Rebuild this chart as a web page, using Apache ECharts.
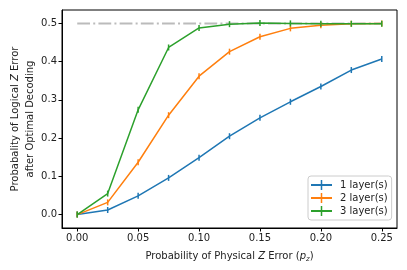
<!DOCTYPE html>
<html><head><meta charset="utf-8">
<script src="https://cdn.jsdelivr.net/npm/echarts@6/dist/echarts.min.js"></script>
<style>html,body{margin:0;padding:0;background:#fff}#c{width:407px;height:270px}</style>
</head><body><div id="c"></div>
<script>
const pz = [0, 0.025, 0.05, 0.075, 0.1, 0.125, 0.15, 0.175, 0.2, 0.225, 0.25];
const layer1 = [0.0, 0.012, 0.049, 0.096, 0.149, 0.205, 0.253, 0.295, 0.335, 0.378, 0.407];
const layer2 = [0.0, 0.032, 0.137, 0.260, 0.362, 0.426, 0.465, 0.487, 0.495, 0.499, 0.500];
const layer3 = [0.0, 0.055, 0.274, 0.437, 0.488, 0.498, 0.501, 0.500, 0.499, 0.499, 0.499];
const seriesNames = ['1 layer(s)', '2 layer(s)', '3 layer(s)'];
const refLevel = 0.5;
const xTicks = [0, 0.05, 0.1, 0.15, 0.2, 0.25];
const yTicks = [0, 0.1, 0.2, 0.3, 0.4, 0.5];

const colors = ['#1f77b4', '#ff7f0e', '#2ca02c'];
const font = 'DejaVu Sans';
const plusIcon = 'path://M0,5 L21,5 L21,7 L0,7 Z M9.75,1 L11.25,1 L11.25,11 L9.75,11 Z';

function mk(name, vals, color) {
  return {
    name: name, type: 'line', data: pz.map((x, i) => [x, vals[i]]),
    color: color, lineStyle: {width: 1.5, color: color},
    symbol: 'rect', symbolSize: [1.5, 6], itemStyle: {color: color},
    showSymbol: true, z: 3, animation: false
  };
}

const chart = echarts.init(document.getElementById('c'), null, {renderer: 'canvas'});
chart.setOption({
  animation: false,
  grid: {left: 62, right: 10, top: 10, bottom: 42, containLabel: false, outerBoundsMode: 'none',
         show: true, borderColor: '#000', borderWidth: 1, backgroundColor: 'transparent'},
  xAxis: {
    type: 'value', min: -0.0125, max: 0.2625,
    axisLine: {show: true, onZero: false, lineStyle: {color: '#000', width: 1}},
    axisTick: {show: true, length: 3.5, customValues: xTicks, lineStyle: {color: '#000'}},
    axisLabel: {customValues: xTicks, formatter: v => v.toFixed(2), fontFamily: font, fontSize: 10, color: '#222', margin: 5},
    splitLine: {show: false},
    name: 'Probability of Physical {i|Z} Error ({i|p}{s|z})',
    nameLocation: 'middle', nameGap: 22, nameMoveOverlap: false,
    nameTextStyle: {fontFamily: font, fontSize: 10, color: '#222',
      rich: {i: {fontFamily: font, fontSize: 10, fontStyle: 'italic', color: '#222'},
             s: {fontFamily: font, fontSize: 7, fontStyle: 'italic', color: '#222', verticalAlign: 'bottom', padding: [6, 0, 0, 0]}}}
  },
  yAxis: {
    type: 'value', min: -0.035, max: 0.535,
    axisLine: {show: true, onZero: false, lineStyle: {color: '#000', width: 1}},
    axisTick: {show: true, length: 3.5, customValues: yTicks, lineStyle: {color: '#000'}},
    axisLabel: {customValues: yTicks, formatter: v => v.toFixed(1), fontFamily: font, fontSize: 10, color: '#222', margin: 5},
    splitLine: {show: false},
    name: '{t|Probabality of Logical }{i|Z}{t| Error}\n{t|after Optimal Decoding}',
    nameLocation: 'middle', nameRotate: 90, nameGap: 24, nameMoveOverlap: false,
    nameTextStyle: {fontFamily: font, fontSize: 10, color: '#222', lineHeight: 15, align: 'center',
      rich: {t: {fontFamily: font, fontSize: 10, color: '#222', lineHeight: 15},
             i: {fontFamily: font, fontSize: 10, fontStyle: 'italic', color: '#222', lineHeight: 15}}}
  },
  legend: {
    orient: 'vertical', left: 308, top: 176, padding: [4, 4, 4, 3], itemGap: 3,
    itemWidth: 21, itemHeight: 12, icon: plusIcon,
    data: seriesNames,
    backgroundColor: 'rgba(255,255,255,0.8)', borderColor: '#ccc', borderWidth: 1, borderRadius: 3,
    textStyle: {fontFamily: font, fontSize: 10, color: '#222', padding: [0, 0, 0, 3]}
  },
  series: [
    {name: 'ref', type: 'line', data: [[pz[0], refLevel], [pz[pz.length - 1], refLevel]],
     symbol: 'none', z: 1, lineStyle: {color: '#bbbbbb', width: 2, type: [12.8, 3.2, 2, 3.2]}, silent: true},
    mk(seriesNames[0], layer1, colors[0]),
    mk(seriesNames[1], layer2, colors[1]),
    mk(seriesNames[2], layer3, colors[2])
  ]
});
</script></body></html>
